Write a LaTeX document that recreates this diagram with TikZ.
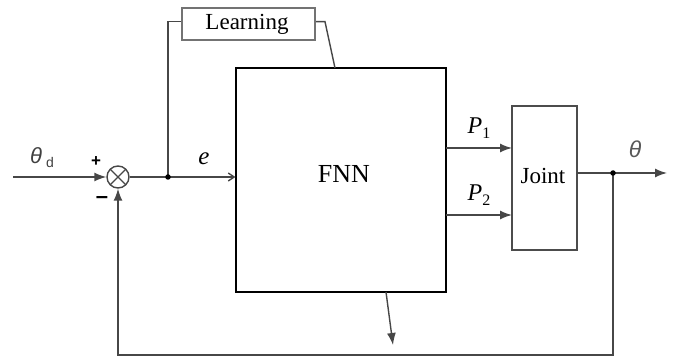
\documentclass[tikz,border=0pt]{standalone}
\usepackage{fontspec}
\setmainfont{Liberation Serif}
\newfontfamily\sansf{Liberation Sans}
\usetikzlibrary{arrows.meta,calc}
\begin{document}
\begin{tikzpicture}[x=1pt,y=-1pt,
  conn/.style={draw=black!72,line width=1.4pt},
  arr/.style={conn,-{Latex[length=12pt,width=9pt]}},
  openarr/.style={conn,-{Straight Barb[length=6pt,width=8pt]}},
  blockbox/.style={draw=black!70,line width=1.4pt,rectangle,inner sep=0pt},
  lab/.style={inner sep=0pt,font=\fontsize{23}{25}\selectfont},
  dotnode/.style={circle,fill=black,inner sep=0pt,minimum size=5.5pt},
  sumnode/.style={circle,draw=black!72,line width=1.4pt,minimum size=22pt,inner sep=0pt,
    path picture={\draw[black!72,line width=1.2pt]
      (path picture bounding box.north west)--(path picture bounding box.south east)
      (path picture bounding box.north east)--(path picture bounding box.south west);}}
]
\useasboundingbox (0,0) rectangle (675,358);
\fill[white] (0,0) rectangle (675,358);

% blocks
\node[draw=black,line width=1.1pt,rectangle,minimum width=210pt,minimum height=224pt,inner sep=0pt] (fnn) at (341,180) {};
\node[blockbox,minimum width=65pt,minimum height=144pt] (joint) at (544.5,178) {};
\node[blockbox,draw=black!55,line width=2pt,minimum width=133pt,minimum height=32pt] (learn) at (248.5,24) {};
\node[sumnode] (sum) at (118,177) {};

% texts
\node[lab] (tlearn) at (247,24) {Learning};
\node[lab,font=\fontsize{26}{28}\selectfont] (tfnn) at (344,174) {FNN};
\node[lab] (tjoint) at (543,176) {Joint};
\node[lab,text=black!75,font=\fontsize{22}{24}\selectfont] (tthd) at (42,158) {\sansf\itshape θ\hspace{4pt}\raisebox{-4pt}{\fontsize{14}{15}\selectfont\upshape d}};
\node[lab,font=\fontsize{25}{26}\selectfont\itshape] (te) at (204,159) {e};
\node[lab,font=\fontsize{24}{26}\selectfont] (tp1) at (479,128) {\textit{P}\raisebox{-5pt}{\fontsize{16}{17}\selectfont 1}};
\node[lab,font=\fontsize{24}{26}\selectfont] (tp2) at (479,195) {\textit{P}\raisebox{-5pt}{\fontsize{16}{17}\selectfont 2}};
\node[lab,text=black!65] (tth) at (635,149) {\sansf\itshape θ};
\node[inner sep=0pt,font=\sansf\bfseries\fontsize{17}{18}\selectfont] (tplus) at (96,162) {+};
\node[inner sep=0pt,font=\sansf\bfseries\fontsize{22}{22}\selectfont] (tminus) at (102,200) {–};

% coordinates
\coordinate (in) at (13,177);
\coordinate (j1) at (168,177);
\coordinate (lr) at (325,21.7);
\coordinate (ftop) at (335,68);
\coordinate (p1s) at (446,148);
\coordinate (p1e) at (512,148);
\coordinate (p2s) at (446,215);
\coordinate (p2e) at (512,215);
\coordinate (os) at (577,173);
\coordinate (j2) at (613,173);
\coordinate (out) at (667,173);
\coordinate (bs) at (386,292);
\coordinate (be) at (393,345);

% connectors
\draw[arr] (in) -- (sum.west);
\draw[conn] (sum.east) -- (j1);
\draw[openarr] (j1) -- (j1 -| fnn.west);
\draw[conn] (j1) |- (learn.west |- lr);
\draw[conn] (learn.east |- lr) -- (lr) -- (ftop);
\draw[arr] (p1s) -- (p1e);
\draw[arr] (p2s) -- (p2e);
\draw[arr] (os) -- (out);
\draw[arr] (j2) -- (613,355) -| (sum.south);
\draw[arr] (bs) -- (be);
\node[dotnode] (d1) at (j1) {};
\node[dotnode] (d2) at (j2) {};
\end{tikzpicture}
\end{document}
